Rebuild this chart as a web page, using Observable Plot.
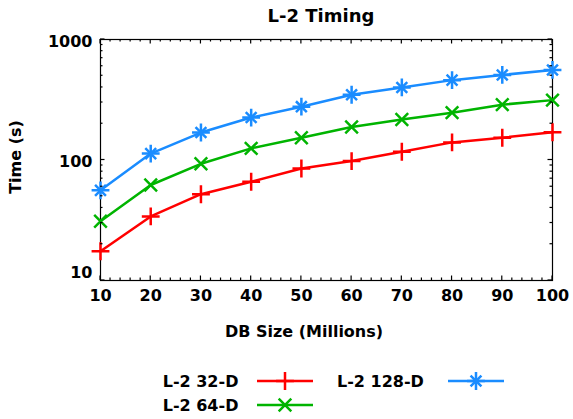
<!DOCTYPE html>
<html><head><meta charset="utf-8">
<script src="https://cdn.jsdelivr.net/npm/d3@7"></script>
<script src="https://cdn.jsdelivr.net/npm/@observablehq/plot@0.6"></script>
<style>html,body{margin:0;padding:0;background:#fff}svg{display:block}</style>
</head><body><div id="chart"></div>
<script>
// ---- data ----
const dbSize = [10, 20, 30, 40, 50, 60, 70, 80, 90, 100];
const l2_32 = [17.5, 34, 52, 66, 85, 98, 117, 140, 153, 170];
const l2_64 = [31, 62, 93, 125, 153, 188, 217, 247, 288, 314];
const l2_128 = [56, 113, 169, 225, 277, 348, 400, 460, 508, 559];
const seriesNames = ["L-2 32-D", "L-2 64-D", "L-2 128-D"];
const seriesColors = ["#ff0000", "#00b400", "#1a8cff"];
const xTicks = [10, 20, 30, 40, 50, 60, 70, 80, 90, 100];
const xMinorTicks = [12, 14, 16, 18, 22, 24, 26, 28, 32, 34, 36, 38, 42, 44, 46, 48, 52, 54, 56, 58, 62, 64, 66, 68, 72, 74, 76, 78, 82, 84, 86, 88, 92, 94, 96, 98];
const yTicks = [10, 100, 1000];
const yMinorTicks = [20, 30, 40, 50, 60, 70, 80, 90, 200, 300, 400, 500, 600, 700, 800, 900];
const titleText = "L-2 Timing";
const xLabel = "DB Size (Millions)";
const yLabel = "Time (s)";

const allSeries = [l2_32, l2_64, l2_128];
const seriesData = allSeries.map((vals, i) => dbSize.map((x, j) => ({series: seriesNames[i], x, y: vals[j]})));

const font = "DejaVu Sans";
const W = 573, H = 419;
const mL = 100, mR = 21, mT = 39, mB = 139;
const lw = 2.5;
const rPlus = 5.8, rTimes = 5.8;

const marks = [];
// tick labels
marks.push(Plot.axisX(xTicks, {anchor: "bottom", label: null, tickSize: 0, tickPadding: 9, fontSize: 16, fontWeight: "bold", tickFormat: d => String(d)}));
marks.push(Plot.axisY(yTicks.filter(d => d > 10), {anchor: "left", label: null, tickSize: 0, tickPadding: 8, dy: 2, fontSize: 16, fontWeight: "bold", tickFormat: d => String(d)}));
marks.push(Plot.axisY(yTicks.filter(d => d <= 10), {anchor: "left", label: null, tickSize: 0, tickPadding: 8, dy: -8, fontSize: 16, fontWeight: "bold", tickFormat: d => String(d)}));
marks.push(Plot.frame({stroke: "black", strokeWidth: 1.2}));

seriesData.forEach((data, i) => {
  const c = seriesColors[i];
  marks.push(Plot.line(data, {x: "x", y: "y", stroke: c, strokeWidth: lw}));
  if (i === 0) marks.push(Plot.dot(data, {x: "x", y: "y", symbol: "plus", r: rPlus, stroke: c, strokeWidth: lw}));
  if (i === 1) marks.push(Plot.dot(data, {x: "x", y: "y", symbol: "times", r: rTimes, stroke: c, strokeWidth: lw}));
  if (i === 2) {
    marks.push(Plot.dot(data, {x: "x", y: "y", symbol: "plus", r: rPlus, stroke: c, strokeWidth: lw}));
    marks.push(Plot.dot(data, {x: "x", y: "y", symbol: "times", r: rTimes - 0.8, stroke: c, strokeWidth: lw}));
  }
});

const chart = Plot.plot({
  width: W, height: H,
  marginLeft: mL, marginRight: mR, marginTop: mT, marginBottom: mB,
  style: {fontFamily: font, fontWeight: "bold", fontSize: "16px", color: "black", background: "white", overflow: "visible"},
  x: {domain: [10, 100], axis: null},
  y: {type: "log", domain: [10, 1000], axis: null},
  marks
});
document.getElementById("chart").appendChild(chart);

const svg = d3.select(chart);
const sx = chart.scale("x"), sy = chart.scale("y");
const x0 = sx.apply(10), x1 = sx.apply(100), y0 = sy.apply(10), y1 = sy.apply(1000);

// inward ticks on all four sides, positioned through Plot's scales
const tg = svg.append("g").attr("stroke", "black").attr("stroke-width", 1.2);
const tick = (xa, ya, xb, yb) => tg.append("line").attr("x1", xa).attr("y1", ya).attr("x2", xb).attr("y2", yb);
for (const [list, len] of [[xTicks, 4.5], [xMinorTicks, 2.5]]) {
  for (const v of list) {
    const px = sx.apply(v);
    tick(px, y0, px, y0 - len);
    tick(px, y1, px, y1 + len);
  }
}
for (const [list, len] of [[yTicks, 4.5], [yMinorTicks, 2.5]]) {
  for (const v of list) {
    const py = sy.apply(v);
    tick(x0, py, x0 + len, py);
    tick(x1, py, x1 - len, py);
  }
}

// ---- title, axis labels, legend ----
const txt = (x, y, s, size, anchor = "middle", rot = 0) => svg.append("text")
  .attr("transform", `translate(${x},${y}) rotate(${rot})`)
  .attr("text-anchor", anchor).attr("dominant-baseline", "central")
  .attr("font-family", font).attr("font-weight", "bold").attr("font-size", size)
  .attr("fill", "black").text(s);

txt(321, 15.5, titleText, 18);
txt(304, 331, xLabel, 16);
txt(15, 157, yLabel, 16, "middle", -90);

const legendItems = [
  {name: seriesNames[0], color: seriesColors[0], syms: [[d3.symbolPlus, rPlus]], tx: 162.7, lx: 257, y: 381},
  {name: seriesNames[2], color: seriesColors[2], syms: [[d3.symbolPlus, rPlus], [d3.symbolTimes, rTimes - 0.8]], tx: 337, lx: 448, y: 381},
  {name: seriesNames[1], color: seriesColors[1], syms: [[d3.symbolTimes, rTimes]], tx: 162.7, lx: 257, y: 405}
];
for (const it of legendItems) {
  txt(it.tx, it.y, it.name, 16, "start");
  svg.append("line").attr("x1", it.lx).attr("x2", it.lx + 56).attr("y1", it.y).attr("y2", it.y)
    .attr("stroke", it.color).attr("stroke-width", lw);
  for (const [type, r] of it.syms) {
    svg.append("path").attr("d", d3.symbol(type, r * r * Math.PI)())
      .attr("transform", `translate(${it.lx + 28},${it.y})`)
      .attr("fill", "none").attr("stroke", it.color).attr("stroke-width", lw);
  }
}
</script>
</body></html>
